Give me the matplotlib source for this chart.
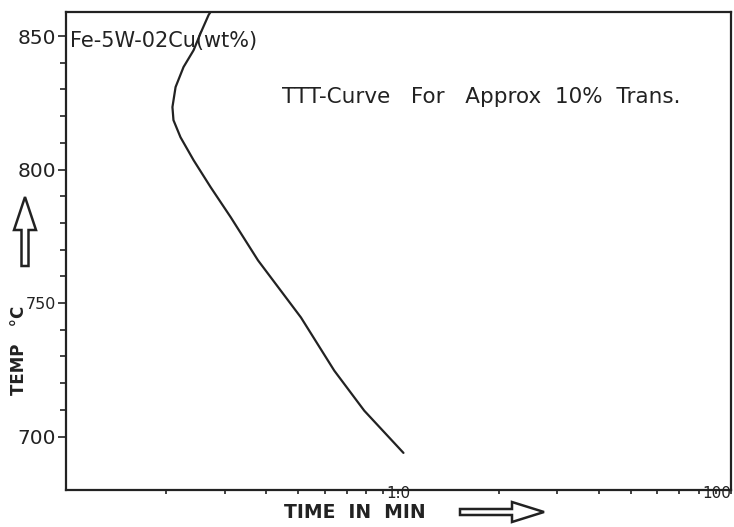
import matplotlib
matplotlib.use("Agg")
import matplotlib.pyplot as plt
from matplotlib.ticker import FixedLocator, FixedFormatter, NullFormatter
from matplotlib.patches import FancyArrow

# TTT curve for approx. 10% transformation
time_min = [0.272, 0.2685, 0.254, 0.242, 0.2257, 0.2136, 0.209, 0.2105,
            0.221, 0.242, 0.2723, 0.3131, 0.378, 0.509, 0.641, 0.789, 1.035]
temp_c = [859.0, 857.9, 851.1, 844.7, 838.4, 830.9, 823.4, 818.5,
          812.1, 803.5, 793.4, 782.1, 766.0, 744.6, 724.7, 709.7, 693.9]

y_major = [700, 750, 800, 850]
y_minor = [710, 720, 730, 740, 760, 770, 780, 790, 810, 820, 830, 840]
x_major = [1, 10]
x_major_labels = ["1.0", "100"]
x_minor = [0.2, 0.3, 0.4, 0.5, 0.6, 0.7, 0.8, 0.9, 2, 3, 4, 5, 6, 7, 8, 9]

ink = "#222222"
plt.rcParams["font.family"] = ["DejaVu Sans"]

fig = plt.figure(figsize=(7.34, 5.27), dpi=100)
ax = fig.add_axes([0.0899, 0.0702, 0.9060, 0.9070])

ax.plot(time_min, temp_c, color=ink, lw=1.6, solid_capstyle="round",
        solid_joinstyle="round")

ax.set_xscale("log")
ax.set_xlim(0.1, 10)
ax.set_ylim(680, 859)

ax.xaxis.set_major_locator(FixedLocator(x_major))
ax.xaxis.set_major_formatter(FixedFormatter(x_major_labels))
ax.xaxis.set_minor_locator(FixedLocator(x_minor))
ax.xaxis.set_minor_formatter(NullFormatter())
ax.yaxis.set_major_locator(FixedLocator(y_major))
ax.yaxis.set_minor_locator(FixedLocator(y_minor))

for s in ax.spines.values():
    s.set_color(ink)
    s.set_linewidth(1.6)

ax.tick_params(axis="y", which="major", direction="out", length=6, width=1.2,
               color=ink, labelsize=14.5, labelcolor=ink, pad=1)
ax.tick_params(axis="y", which="minor", direction="out", length=4, width=1.2,
               color=ink)
ax.tick_params(axis="x", which="major", direction="out", length=3, width=1.2,
               color=ink, labelsize=11, labelcolor=ink, pad=-6)
ax.tick_params(axis="x", which="minor", direction="out", length=3, width=1.2,
               color=ink)
ax.tick_params(top=False, right=False)
fig.canvas.draw()
ax.get_xticklabels()[-1].set_horizontalalignment("right")
for lbl, val in zip(ax.get_yticklabels(), y_major):
    if val == 750:
        lbl.set_fontsize(11.5)

ax.text(0.006, 0.94, "Fe-5W-02Cu(wt%)", transform=ax.transAxes,
        fontsize=15, color=ink, ha="left", va="center")
ax.text(0.325, 0.822, "TTT-Curve   For   Approx  10%  Trans.",
        transform=ax.transAxes, fontsize=15.5, color=ink,
        ha="left", va="center")

# axis titles drawn in figure pixels
W, H = 734, 527
fig.text(19 / W, 1 - 350 / H, "TEMP   °C", rotation=90, fontsize=12,
         color=ink, ha="center", va="center", fontweight="bold")
fig.text(355 / W, 1 - 513 / H, "TIME  IN  MIN", fontsize=13.5, color=ink,
         ha="center", va="center", fontweight="bold")

# hollow arrows
up = FancyArrow(25 / W, 1 - 266 / H, 0, 69 / H, width=7 / W,
                head_width=22 / W, head_length=33 / H,
                length_includes_head=True, transform=fig.transFigure,
                facecolor="white", edgecolor=ink, linewidth=1.8)
right = FancyArrow(460 / W, 1 - 512 / H, 84 / W, 0, width=6 / H,
                   head_width=20 / H, head_length=32 / W,
                   length_includes_head=True, transform=fig.transFigure,
                   facecolor="white", edgecolor=ink, linewidth=1.8)
fig.patches.extend([up, right])

fig.savefig("out.png", dpi=100)
